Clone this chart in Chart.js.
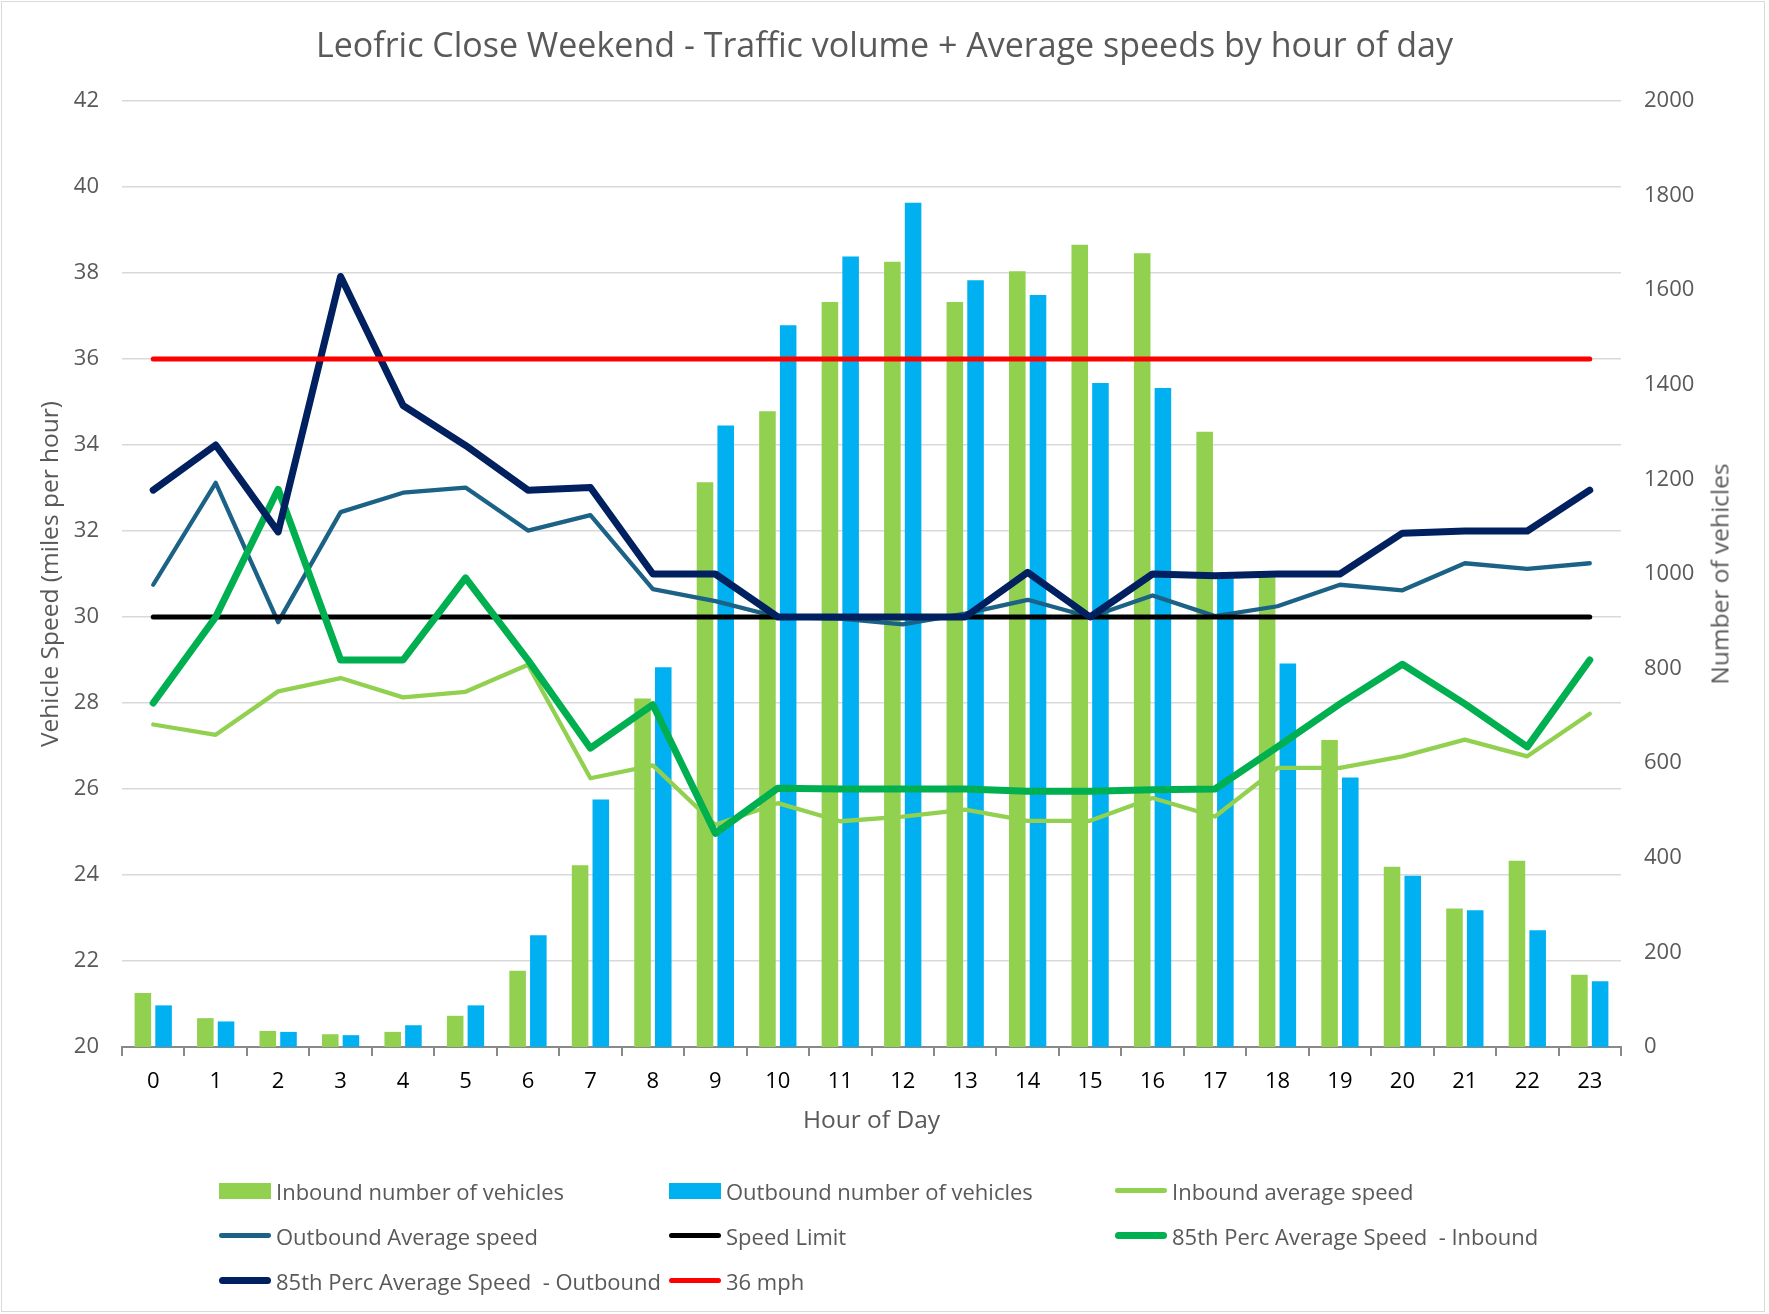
<!DOCTYPE html>
<html>
<head>
<meta charset="utf-8">
<title>Leofric Close Weekend</title>
<script src="https://cdn.jsdelivr.net/npm/chart.js@4.4.1/dist/chart.umd.min.js"></script>
<style>
  html, body { margin: 0; padding: 0; background: #fff; }
  #wrap { position: relative; width: 1769px; height: 1314px; font-family: "Open Sans", sans-serif; overflow: hidden; }
  #frame { position: absolute; left: 1px; top: 1px; width: 1762px; height: 1309px; border: 1.5px solid #d9d9d9; pointer-events: none; }
  #title { position: absolute; left: 0; top: 22px; width: 1769px; line-height: 44px; text-align: center; font-size: 34px; color: #595959; }
  #rtitle { position: absolute; left: 1719px; top: 574px; transform: translate(-50%, -50%) rotate(-90deg); font-size: 24.5px; color: #595959; white-space: nowrap; }
  canvas { position: absolute; left: 0; top: 0; }
  #legend { position: absolute; left: 219px; top: 1168px; display: grid; grid-template-columns: 450px 446px 420px; }
  .item { display: flex; align-items: center; height: 45px; font-size: 22px; color: #595959; white-space: pre; }
  .sym { width: 52px; margin-right: 5px; flex: none; }
</style>
</head>
<body>
<div id="wrap">
  <canvas id="chart" width="1769" height="1314"></canvas>
  <div id="title">Leofric Close Weekend - Traffic volume + Average speeds by hour of day</div>
  <div id="rtitle">Number of vehicles</div>
  <div id="legend"></div>
  <div id="frame"></div>
</div>
<script>
const hours = ['0', '1', '2', '3', '4', '5', '6', '7', '8', '9', '10', '11',
  '12', '13', '14', '15', '16', '17', '18', '19', '20', '21', '22', '23'];

// vehicle counts (right axis)
const inboundCount = [114, 61, 34, 27, 32, 66, 161, 384, 737, 1194, 1344, 1575,
  1660, 1575, 1640, 1696, 1678, 1301, 993, 649, 381, 293, 394, 153];
const outboundCount = [88, 54, 32, 25, 46, 88, 236, 523, 803, 1314, 1526, 1671,
  1785, 1621, 1590, 1404, 1393, 993, 811, 570, 362, 289, 247, 139];

// speeds in mph (left axis)
const inboundSpeed = [27.5, 27.26, 28.27, 28.58, 28.13, 28.26, 28.89, 26.25, 26.55, 25.17, 25.67, 25.25,
  25.36, 25.52, 25.26, 25.26, 25.79, 25.36, 26.49, 26.49, 26.76, 27.15, 26.76, 27.75];
const outboundSpeed = [30.75, 33.12, 29.88, 32.44, 32.89, 33.01, 32.01, 32.37, 30.65, 30.37, 30.0, 29.96,
  29.83, 30.08, 30.4, 30.0, 30.5, 30.02, 30.25, 30.75, 30.62, 31.25, 31.12, 31.25];
const speedLimit = [30, 30, 30, 30, 30, 30, 30, 30, 30, 30, 30, 30,
  30, 30, 30, 30, 30, 30, 30, 30, 30, 30, 30, 30];
const p85Inbound = [28.0, 30.0, 32.97, 29.0, 29.0, 30.91, 29.0, 26.95, 27.96, 24.97, 26.02, 26.0,
  26.0, 26.0, 25.95, 25.95, 25.98, 26.0, 26.98, 27.98, 28.9, 27.98, 26.98, 29.0];
const p85Outbound = [32.95, 34.0, 31.98, 37.92, 34.92, 33.99, 32.95, 33.01, 31.0, 31.0, 30.0, 30.0,
  30.0, 30.0, 31.04, 30.0, 31.0, 30.96, 31.0, 31.0, 31.95, 32.0, 32.0, 32.95];
const mph36 = [36, 36, 36, 36, 36, 36, 36, 36, 36, 36, 36, 36,
  36, 36, 36, 36, 36, 36, 36, 36, 36, 36, 36, 36];

const speedTicks = { min: 20, max: 42, step: 2 };
const countTicks = { min: 0, max: 2000, step: 200 };

const FONT = '"Open Sans", sans-serif';

function bar(label, data, color) {
  return {
    type: 'bar', label: label, data: data, yAxisID: 'y1', order: 10,
    backgroundColor: color, borderWidth: 0,
    barPercentage: 0.8, categoryPercentage: 0.663
  };
}

function line(label, data, color, width, order) {
  return {
    type: 'line', label: label, data: data, yAxisID: 'y', order: order,
    borderColor: color, backgroundColor: color, borderWidth: width,
    pointRadius: 0, tension: 0, fill: false,
    borderCapStyle: 'round', borderJoinStyle: 'round'
  };
}

// later series sit on top, like in Excel
const datasets = [
  bar('Inbound number of vehicles', inboundCount, '#92d050'),
  bar('Outbound number of vehicles', outboundCount, '#00b0f0'),
  line('Inbound average speed', inboundSpeed, '#92d050', 4.3, 6),
  line('Outbound Average speed', outboundSpeed, '#1b6286', 4.3, 5),
  line('Speed Limit', speedLimit, '#000000', 5, 4),
  line('85th Perc Average Speed  - Inbound', p85Inbound, '#00b050', 7, 3),
  line('85th Perc Average Speed  - Outbound', p85Outbound, '#002060', 7, 2),
  line('36 mph', mph36, '#ff0000', 5, 1)
];

new Chart(document.getElementById('chart'), {
  type: 'bar',
  data: { labels: hours, datasets: datasets },
  options: {
    responsive: false,
    animation: false,
    layout: { padding: { top: 101, bottom: 167, left: 0, right: 0 } },
    plugins: {
      legend: { display: false },
      title: { display: false },
      tooltip: { enabled: false }
    },
    scales: {
      x: {
        offset: true,
        grid: { offset: true, drawOnChartArea: false, color: '#898989', lineWidth: 2, tickLength: 9 },
        border: { color: '#898989', width: 2 },
        ticks: { color: '#000', font: { family: FONT, size: 22 }, padding: 13, maxRotation: 0, autoSkip: false },
        title: { display: true, text: 'Hour of Day', color: '#595959', font: { family: FONT, size: 24.5 }, padding: { top: 0, bottom: 11 } },
        afterFit: (s) => { s.height = 100; }
      },
      y: {
        position: 'left',
        min: speedTicks.min, max: speedTicks.max,
        ticks: { stepSize: speedTicks.step, color: '#595959', font: { family: FONT, size: 22 }, padding: 23 },
        grid: { color: '#d9d9d9', lineWidth: 1.5, drawTicks: false },
        border: { display: false },
        title: { display: true, text: 'Vehicle Speed (miles per hour)', color: '#595959', font: { family: FONT, size: 24.5 }, padding: { top: 36, bottom: 0 } },
        afterFit: (s) => { s.width = 122; }
      },
      y1: {
        position: 'right',
        min: countTicks.min, max: countTicks.max,
        ticks: { stepSize: countTicks.step, color: '#595959', font: { family: FONT, size: 22 }, padding: 23,
          callback: (v) => String(v) },
        grid: { display: false, drawTicks: false },
        border: { display: false },
        afterFit: (s) => { s.width = 148; }
      }
    }
  }
});

// legend laid out in three columns like the original
const legend = document.getElementById('legend');
datasets.forEach((d) => {
  const item = document.createElement('div');
  item.className = 'item';
  const sym = document.createElement('div');
  sym.className = 'sym';
  if (d.type === 'bar') {
    sym.style.height = '16px';
    sym.style.background = d.backgroundColor;
  } else {
    sym.style.height = d.borderWidth + 'px';
    sym.style.background = d.borderColor;
    sym.style.borderRadius = (d.borderWidth / 2) + 'px';
  }
  const txt = document.createElement('span');
  txt.textContent = d.label;
  item.appendChild(sym);
  item.appendChild(txt);
  legend.appendChild(item);
});
</script>
</body>
</html>
